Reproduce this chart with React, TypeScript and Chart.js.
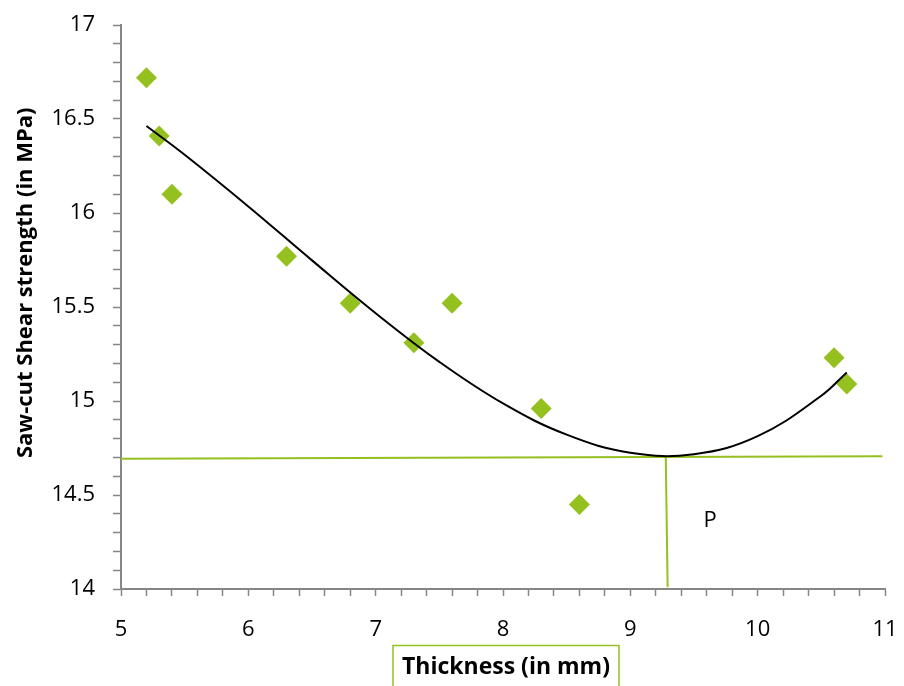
import React, { useEffect, useRef } from "react";
import { Chart, registerables } from "chart.js";

Chart.register(...registerables);

// Measured points
const thicknessMm = [5.2, 5.3, 5.4, 6.3, 6.8, 7.3, 7.6, 8.3, 8.6, 10.6, 10.7];
const shearMPa = [16.72, 16.41, 16.1, 15.77, 15.52, 15.31, 15.52, 14.96, 14.45, 15.23, 15.09];

// Trendline
const trendX = [5.2, 5.5, 6.0, 6.5, 7.0, 7.5, 8.0, 8.5, 9.0, 9.5, 10.0, 10.5, 10.7];
const trendY = [16.463, 16.31, 16.035, 15.748, 15.467, 15.208, 14.987, 14.821, 14.725, 14.717, 14.813, 15.028, 15.152];

// Hand-drawn green guide lines
const hLineX = [5.0, 10.98];
const hLineY = [14.693, 14.706];
const vLineX = [9.278, 9.293];
const vLineY = [14.71, 14.01];

// Annotation
const pLabel = "P";
const pLabelX = 9.626;
const pLabelY = 14.362;

// Axes
const xMin = 5, xMax = 11, xStep = 0.2;
const yMin = 14, yMax = 17, yStep = 0.1;
const xTitle = "Thickness (in mm)";
const yTitle = "Saw-cut Shear strength (in MPa)";

const GREEN = "#94C11F";
const GRAY = "#868686";

export default function App() {
  const ref = useRef<HTMLCanvasElement>(null);

  useEffect(() => {
    document.body.style.margin = "0";
    const canvas = ref.current!;
    const pts = thicknessMm.map((x, i) => ({ x, y: shearMPa[i] }));
    const trend = trendX.map((x, i) => ({ x, y: trendY[i] }));
    const hLine = hLineX.map((x, i) => ({ x, y: hLineY[i] }));
    const vLine = vLineX.map((x, i) => ({ x, y: vLineY[i] }));

    const decor = {
      id: "decor",
      afterDraw(chart: any) {
        const ctx = chart.ctx;
        const xs = chart.scales.x;
        const ys = chart.scales.y;
        const ca = chart.chartArea;
        ctx.save();
        // P label
        ctx.fillStyle = "#000";
        ctx.font = "22px 'Open Sans'";
        ctx.textAlign = "center";
        ctx.textBaseline = "middle";
        ctx.fillText(pLabel, xs.getPixelForValue(pLabelX), ys.getPixelForValue(pLabelY));
        // Y title
        ctx.font = "bold 22px 'Open Sans'";
        ctx.save();
        ctx.translate(26, ca.top + (ca.bottom - ca.top) * 0.457);
        ctx.rotate(-Math.PI / 2);
        ctx.fillText(yTitle, 0, 0);
        ctx.restore();
        // X title with box
        const cx = (ca.left + ca.right) / 2 + 3;
        ctx.font = "bold 23px 'Open Sans'";
        ctx.fillText(xTitle, cx, 667);
        ctx.strokeStyle = GREEN;
        ctx.lineWidth = 1.5;
        ctx.strokeRect(cx - 113, 645.5, 226, 60);
        ctx.restore();
      },
    };

    const chart = new Chart(canvas, {
      type: "scatter",
      data: {
        datasets: [
          {
            data: trend,
            showLine: true,
            borderColor: "#000",
            borderWidth: 2,
            pointRadius: 0,
            tension: 0.4,
            fill: false,
          },
          {
            data: hLine,
            showLine: true,
            borderColor: GREEN,
            borderWidth: 2,
            pointRadius: 0,
            tension: 0,
          },
          {
            data: vLine,
            showLine: true,
            borderColor: GREEN,
            borderWidth: 2,
            pointRadius: 0,
            tension: 0,
          },
          {
            data: pts,
            pointStyle: "rectRot",
            pointRadius: 10.5,
            pointBackgroundColor: GREEN,
            pointBorderColor: GREEN,
            pointBorderWidth: 0,
            showLine: false,
          },
        ],
      },
      plugins: [decor],
      options: {
        responsive: false,
        animation: false,
        layout: { autoPadding: false, padding: { left: 0, right: 19, top: 25, bottom: 0 } },
        plugins: { legend: { display: false }, tooltip: { enabled: false } },
        scales: {
          x: {
            type: "linear",
            min: xMin,
            max: xMax,
            afterFit: (s: any) => {
              s.height = 97;
              s.paddingLeft = 0; s.paddingRight = 0; s.paddingTop = 0; s.paddingBottom = 0;
            },
            border: { color: GRAY, width: 2 },
            grid: { drawOnChartArea: false, drawTicks: true, tickLength: 7, color: GRAY, tickColor: GRAY, tickWidth: 1.5 },
            ticks: {
              stepSize: xStep,
              autoSkip: false,
              maxRotation: 0,
              padding: 21,
              color: "#000",
              font: { family: "'Open Sans'", size: 22 },
              callback: (v: any) => {
                const n = Number(v);
                return Math.abs(n - Math.round(n)) < 1e-6 ? String(Math.round(n)) : "";
              },
            },
          },
          y: {
            type: "linear",
            min: yMin,
            max: yMax,
            afterFit: (s: any) => {
              s.width = 121;
              s.paddingLeft = 0; s.paddingRight = 0; s.paddingTop = 0; s.paddingBottom = 0;
            },
            border: { color: GRAY, width: 2 },
            grid: { drawOnChartArea: false, drawTicks: true, tickLength: 8, color: GRAY, tickColor: GRAY, tickWidth: 1.5 },
            ticks: {
              stepSize: yStep,
              autoSkip: false,
              padding: 18,
              color: "#000",
              font: { family: "'Open Sans'", size: 22 },
              callback: (v: any) => {
                const n = Number(v);
                const h = Math.round(n * 2) / 2;
                return Math.abs(n - h) < 1e-6 ? String(h) : "";
              },
            },
          },
        },
      },
    });
    return () => chart.destroy();
  }, []);

  return (
    <div style={{ width: 904, height: 686, background: "#fff" }}>
      <canvas ref={ref} width={904} height={686} />
    </div>
  );
}
